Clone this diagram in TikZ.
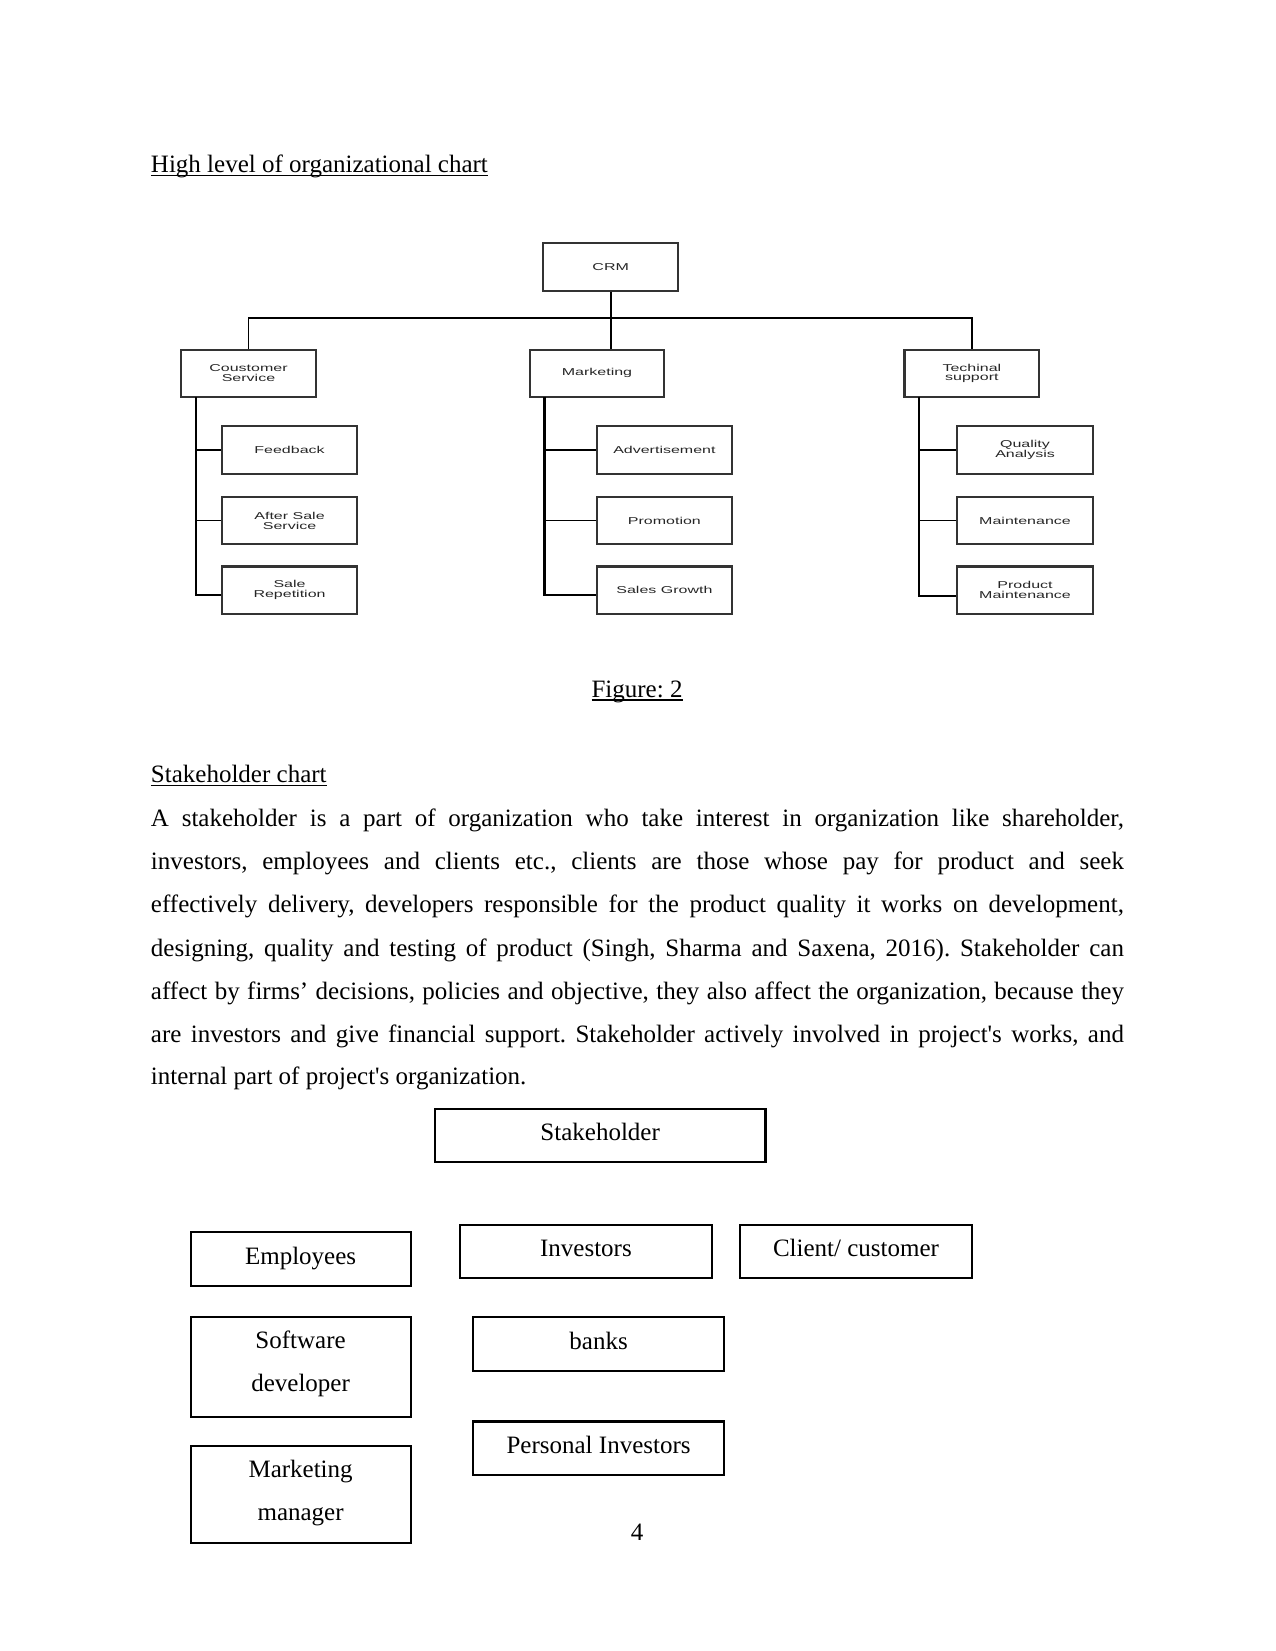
\documentclass[tikz,border=0pt]{standalone}
\usepackage{fontspec}
\setmainfont[Ligatures=TeXOff]{Liberation Serif}
\newfontfamily\orgfont[FakeStretch=1.6]{Liberation Sans}
\frenchspacing
\newcommand\un{0.5054pt}
\newcommand\ulin[1]{\setbox0\hbox{#1}\rlap{\rule[-1.7pt]{\wd0}{0.6pt}}\box0}
\tikzset{
  orgbox/.style={draw=black!80, line width=1pt, minimum width=128*\un, minimum height=45*\un,
    inner sep=0pt, align=center, text=black!85, font=\orgfont\fontsize{4.8}{4.6}\selectfont},
  conn/.style={line width=0.7pt},
  trunk/.style={line width=1.1pt},
  shbox/.style={draw, line width=1pt, inner sep=0pt, align=center,
    font=\fontsize{12}{20.7}\selectfont},
  txt/.style={inner sep=0pt, font=\fontsize{12}{14}\selectfont\frenchspacing},
}
\begin{document}
\begin{tikzpicture}[x=0.5054pt, y=-0.5054pt]
\useasboundingbox (0,0) rectangle (1211,1568);
% titles
\node[txt, anchor=base west] (t1) at (143,164) {\ulin{High level of organizational chart}};
\node[txt, anchor=base] (fig) at (605,662) {\ulin{Figure: 2}};
\node[txt, anchor=base west] (t2) at (143,743) {\ulin{Stakeholder chart}};
% org chart
\node[orgbox] (crm) at (580,253.5) {CRM};
\node[orgbox] (cs) at (236,354.5) {Coustomer\\Service};
\node[orgbox] (mkt) at (567,354.5) {Marketing};
\node[orgbox] (ts) at (923,354.5) {Techinal\\support};
\node[orgbox] (fb) at (275,427.5) {Feedback};
\node[orgbox] (as) at (275,494.5) {After Sale\\Service};
\node[orgbox] (sr) at (275,560.5) {Sale\\Repetition};
\node[orgbox] (adv) at (631,427.5) {Advertisement};
\node[orgbox] (pro) at (631,494.5) {Promotion};
\node[orgbox] (sg) at (631,560.5) {Sales Growth};
\node[orgbox, minimum width=129*\un] (qa) at (973.5,427.5) {Quality\\Analysis};
\node[orgbox, minimum width=129*\un] (mt) at (973.5,494.5) {Maintenance};
\node[orgbox, minimum width=129*\un] (pm) at (973.5,560.5) {Product\\Maintenance};
\coordinate (bus) at (580,302);
\draw[trunk] (crm.south) -- (crm.south |- mkt.north);
\draw[conn] (cs.north) |- (bus) -| (ts.north);
\coordinate (csT) at (186,377); \coordinate (csB) at (186,565);
\coordinate (mkT) at (517,377); \coordinate (mkB) at (517,565);
\coordinate (tsT) at (873,377); \coordinate (tsB) at (873,566);
\draw[trunk] (csT) -- (csB) -- (sr.west |- csB);
\draw[conn] (csT |- fb.west) -- (fb.west);
\draw[conn] (csT |- as.west) -- (as.west);
\draw[trunk] (mkT) -- (mkB) -- (sg.west |- mkB);
\draw[conn] (mkT |- adv.west) -- (adv.west);
\draw[conn] (mkT |- pro.west) -- (pro.west);
\draw[trunk] (tsT) -- (tsB) -- (pm.west |- tsB);
\draw[conn] (tsT |- qa.west) -- (qa.west);
\draw[conn] (tsT |- mt.west) -- (mt.west);
% paragraph
\node[txt, anchor=base west] (l1) at (143,785) {\makebox[467pt][s]{A stakeholder is a part of organization who take interest in organization like shareholder,}};
\node[txt, anchor=base west] (l2) at (143,826) {\makebox[467pt][s]{investors, employees and clients etc., clients are those whose pay for product and seek}};
\node[txt, anchor=base west] (l3) at (143,867) {\makebox[467pt][s]{effectively delivery, developers responsible for the product quality it works on development,}};
\node[txt, anchor=base west] (l4) at (143,908) {\makebox[467pt][s]{designing, quality and testing of product (Singh, Sharma and Saxena, 2016). Stakeholder can}};
\node[txt, anchor=base west] (l5) at (143,949) {\makebox[467pt][s]{affect by firms’ decisions, policies and objective, they also affect the organization, because they}};
\node[txt, anchor=base west] (l6) at (143,990) {\makebox[467pt][s]{are investors and give financial support. Stakeholder actively involved in project's works, and}};
\node[txt, anchor=base west] (l7) at (143,1030) {internal part of project's organization.};
% stakeholder boxes
\node[shbox, minimum width=314*\un, minimum height=51*\un, text height=8.5pt, text depth=3.5pt] (sh) at (570,1078.5) {Stakeholder};
\node[shbox, minimum width=209*\un, minimum height=51*\un, text height=8.5pt, text depth=3.5pt] (emp) at (285.5,1195.5) {Employees};
\node[shbox, minimum width=239*\un, minimum height=51*\un, text height=8.5pt, text depth=3.5pt] (inv) at (556.5,1188.5) {Investors};
\node[shbox, minimum width=220*\un, minimum height=51*\un, text height=8.5pt, text depth=3.5pt] (cli) at (813,1188.5) {Client/ customer};
\node[shbox, minimum width=209*\un, minimum height=95*\un] (sw) at (285.5,1298.5) {};
\node[txt, anchor=base] (sw1) at (285.5,1281) {Software};
\node[txt, anchor=base] (sw2) at (285.5,1322) {developer};
\node[shbox, minimum width=239*\un, minimum height=51*\un, text height=8.5pt, text depth=3.5pt] (bk) at (568.5,1276.5) {banks};
\node[shbox, minimum width=239*\un, minimum height=51*\un, text height=8.5pt, text depth=3.5pt] (pi) at (568.5,1375.5) {Personal Investors};
\node[shbox, minimum width=209*\un, minimum height=92*\un] (mm) at (285.5,1419) {};
\node[txt, anchor=base] (mm1) at (285.5,1403) {Marketing};
\node[txt, anchor=base] (mm2) at (285.5,1444) {manager};
\node[txt, anchor=base] (pg) at (605,1463) {4};
\end{tikzpicture}
\end{document}
